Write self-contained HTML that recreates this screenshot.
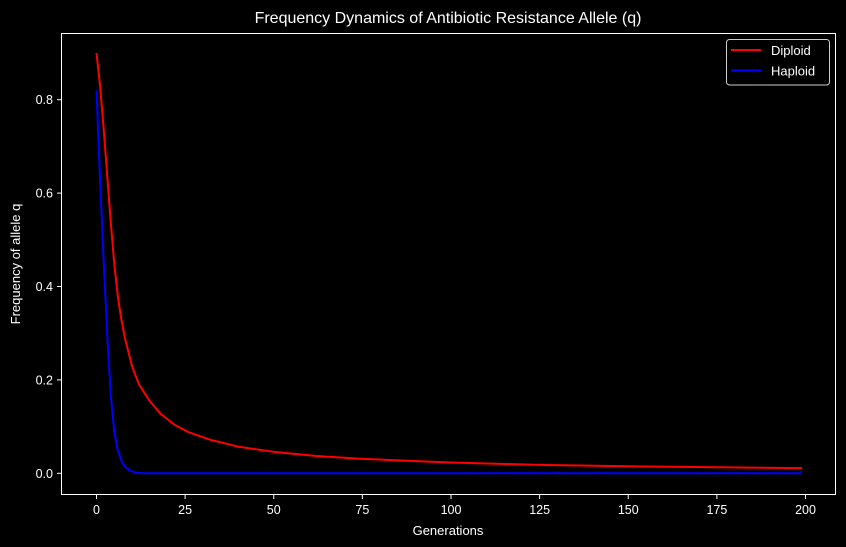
<!DOCTYPE html>
<html><head><meta charset="utf-8"><style>
html,body{margin:0;padding:0;background:#000;}
svg{display:block;font-family:"Liberation Sans","DejaVu Sans",sans-serif;}
</style></head><body>
<svg id="chart" width="846" height="547" viewBox="0 0 846 547">
<rect width="846" height="547" fill="#000"/>
<text x="448" y="23" fill="#fff" font-size="16" text-anchor="middle">Frequency Dynamics of Antibiotic Resistance Allele (q)</text>
<g id="xt"></g>
<g id="yt"></g>
<g id="series"></g>
<rect x="61.5" y="33.5" width="774" height="461" fill="none" stroke="#fff" stroke-width="1"/>
<text x="448" y="535" fill="#fff" font-size="13" text-anchor="middle">Generations</text>
<text x="0" y="0" transform="translate(20,264) rotate(-90)" fill="#fff" font-size="13" text-anchor="middle">Frequency of allele q</text>
<g>
<rect x="726.5" y="39.5" width="103" height="45.5" rx="3" fill="#000" stroke="#ccc" stroke-width="1"/>
<line x1="731" y1="50" x2="761" y2="50" stroke="#f00" stroke-width="2"/>
<text x="771" y="55" fill="#fff" font-size="13">Diploid</text>
<line x1="731" y1="70.5" x2="761" y2="70.5" stroke="#00f" stroke-width="2"/>
<text x="771" y="75.5" fill="#fff" font-size="13">Haploid</text>
</g>
</svg>
<script>
const xTicks=[0,25,50,75,100,125,150,175,200];
const yTicks=[0.0,0.2,0.4,0.6,0.8];
const yTickLabels=["0.0","0.2","0.4","0.6","0.8"];
const diploidGen=[0,1,2,3,4,5,6,7,8,10,12,15,18,22,26,32,40,50,62,75,90,100,125,150,175,199];
const diploidQ=[0.90,0.83,0.74,0.64,0.54,0.45,0.38,0.33,0.29,0.23,0.19,0.155,0.128,0.104,0.088,0.072,0.057,0.046,0.037,0.031,0.026,0.023,0.018,0.015,0.013,0.011];
const haploidGen=[0,1,2,3,4,5,6,7,8,9,10,11,12,13,50,100,150,199];
const haploidQ=[0.82,0.63,0.46,0.30,0.17,0.09,0.05,0.027,0.014,0.008,0.004,0.002,0.001,0,0,0,0,0];
const NS="http://www.w3.org/2000/svg";
function X(t){return 96.5+t*3.545;}
function Y(q){return 473.3-q*467;}
const xt=document.getElementById('xt'),yt=document.getElementById('yt'),sg=document.getElementById('series');
xTicks.forEach(t=>{
 const l=document.createElementNS(NS,'line');
 l.setAttribute('x1',X(t));l.setAttribute('x2',X(t));l.setAttribute('y1',494.5);l.setAttribute('y2',499);l.setAttribute('stroke','#fff');
 
 
 xt.appendChild(l);
 const tx=document.createElementNS(NS,'text');
 tx.setAttribute('x',X(t));tx.setAttribute('y',514);tx.setAttribute('fill','#fff');tx.setAttribute('font-size','12.5');tx.setAttribute('text-anchor','middle');
 tx.textContent=t;
 
 
 xt.appendChild(tx);
});
yTicks.forEach((v,i)=>{
 const l=document.createElementNS(NS,'line');
 l.setAttribute('x1',57);l.setAttribute('x2',61.5);l.setAttribute('y1',Y(v));l.setAttribute('y2',Y(v));l.setAttribute('stroke','#fff');
 
 
 yt.appendChild(l);
 const tx=document.createElementNS(NS,'text');
 tx.setAttribute('x',53);tx.setAttribute('y',Y(v)+4.5);tx.setAttribute('fill','#fff');tx.setAttribute('font-size','12.5');tx.setAttribute('text-anchor','end');
 tx.textContent=yTickLabels[i];
 
 
 yt.appendChild(tx);
});
function line(gen,q,color,name){
 const p=document.createElementNS(NS,'polyline');
 p.setAttribute('points',gen.map((g,i)=>X(g).toFixed(2)+','+Y(q[i]).toFixed(2)).join(' '));
 p.setAttribute('fill','none');p.setAttribute('stroke',color);p.setAttribute('stroke-width','2');p.setAttribute('stroke-linejoin','round');
 
 
 sg.appendChild(p);
}
line(diploidGen,diploidQ,'#f00','diploid-line');
line(haploidGen,haploidQ,'#00f','haploid-line');
</script>
</body></html>
